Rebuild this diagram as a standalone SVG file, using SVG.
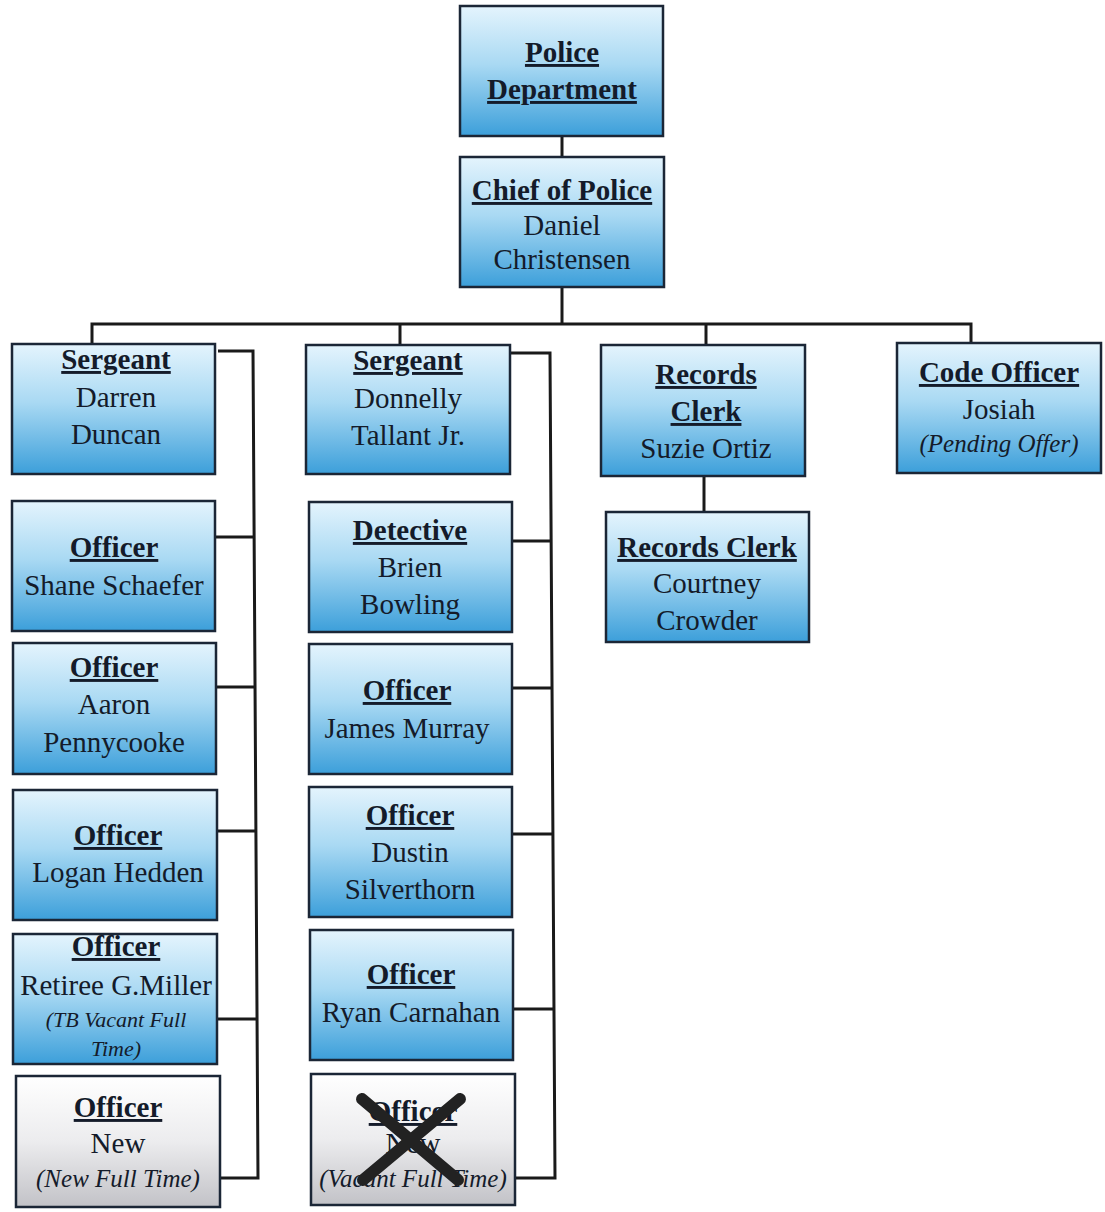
<svg xmlns="http://www.w3.org/2000/svg" width="1105" height="1212" viewBox="0 0 1105 1212" font-family="Liberation Serif, serif">
  <defs>
    <linearGradient id="blueFill" x1="0" y1="0" x2="0" y2="1">
      <stop offset="0" stop-color="#e4f4fd"/>
      <stop offset="0.45" stop-color="#a9d9f3"/>
      <stop offset="1" stop-color="#3c9fda"/>
    </linearGradient>
    <linearGradient id="greyFill" x1="0" y1="0" x2="0" y2="1">
      <stop offset="0" stop-color="#ffffff"/>
      <stop offset="0.5" stop-color="#ececee"/>
      <stop offset="1" stop-color="#c2c2c7"/>
    </linearGradient>
  </defs>
  <style>
    .box { fill: url(#blueFill); stroke: #1b2636; stroke-width: 2.5; }
    .grey { fill: url(#greyFill); stroke: #1b2636; stroke-width: 2.5; }
    .wire { fill: none; stroke: #1a1a1a; stroke-width: 3; }
    .cross { stroke: #222222; stroke-width: 12; stroke-linecap: round; }
  </style>

  <!-- connectors -->
  <g id="connectors">
    <line class="wire" x1="562" y1="136" x2="562" y2="157"/>
    <line class="wire" x1="562" y1="287" x2="562" y2="324"/>
    <polyline class="wire" points="92,344 92,324 971,324 971,343"/>
    <line class="wire" x1="400" y1="324" x2="400" y2="345"/>
    <line class="wire" x1="706" y1="324" x2="706" y2="345"/>
    <line class="wire" x1="704" y1="476" x2="704" y2="512"/>
    <!-- left sergeant branch -->
    <polyline class="wire" points="218,351 253,351 258,1178 220,1178"/>
    <line class="wire" x1="215" y1="537" x2="254" y2="537"/>
    <line class="wire" x1="216" y1="687" x2="255" y2="687"/>
    <line class="wire" x1="217" y1="831" x2="256" y2="831"/>
    <line class="wire" x1="217" y1="1019" x2="258" y2="1019"/>
    <!-- middle sergeant branch -->
    <polyline class="wire" points="510,353 550,353 555,1178 515,1178"/>
    <line class="wire" x1="512" y1="541" x2="552" y2="541"/>
    <line class="wire" x1="512" y1="688" x2="553" y2="688"/>
    <line class="wire" x1="512" y1="834" x2="554" y2="834"/>
    <line class="wire" x1="513" y1="1009" x2="555" y2="1009"/>
  </g>

  <!-- boxes -->
  <g id="police-department"><rect class="box" x="460" y="6" width="203" height="130"/></g>
  <g id="chief"><rect class="box" x="460" y="157" width="204" height="130"/></g>
  <g id="sergeant-duncan"><rect class="box" x="12" y="344" width="203" height="130"/></g>
  <g id="sergeant-tallant"><rect class="box" x="306" y="345" width="204" height="129"/></g>
  <g id="records-ortiz"><rect class="box" x="601" y="345" width="204" height="131"/></g>
  <g id="code-officer"><rect class="box" x="897" y="343" width="204" height="130"/></g>
  <g id="records-crowder"><rect class="box" x="606" y="512" width="203" height="130"/></g>
  <g id="officer-schaefer"><rect class="box" x="12" y="501" width="203" height="130"/></g>
  <g id="officer-pennycooke"><rect class="box" x="13" y="643" width="203" height="131"/></g>
  <g id="officer-hedden"><rect class="box" x="13" y="790" width="204" height="130"/></g>
  <g id="officer-miller"><rect class="box" x="13" y="934" width="204" height="130"/></g>
  <g id="officer-new-left"><rect class="grey" x="16" y="1076" width="204" height="131"/></g>
  <g id="detective-bowling"><rect class="box" x="309" y="502" width="203" height="130"/></g>
  <g id="officer-murray"><rect class="box" x="309" y="644" width="203" height="130"/></g>
  <g id="officer-silverthorn"><rect class="box" x="309" y="787" width="203" height="130"/></g>
  <g id="officer-carnahan"><rect class="box" x="310" y="930" width="203" height="130"/></g>
  <g id="officer-vacant"><rect class="grey" x="311" y="1074" width="204" height="131"/></g>

  <!-- titles: bold, underlined -->
  <g id="titles" font-family="Liberation Serif" font-size="29" font-weight="bold" text-decoration="underline" fill="#141b2a" text-anchor="middle">
    <text x="562" y="62">Police</text>
    <text x="562" y="99">Department</text>
    <text x="562" y="200">Chief of Police</text>
    <text x="116" y="369">Sergeant</text>
    <text x="408" y="370">Sergeant</text>
    <text x="706" y="384">Records</text>
    <text x="706" y="421">Clerk</text>
    <text x="999" y="382">Code Officer</text>
    <text x="707" y="557">Records Clerk</text>
    <text x="114" y="557">Officer</text>
    <text x="114" y="677">Officer</text>
    <text x="118" y="845">Officer</text>
    <text x="116" y="956">Officer</text>
    <text x="118" y="1117">Officer</text>
    <text x="410" y="540">Detective</text>
    <text x="407" y="700">Officer</text>
    <text x="410" y="825">Officer</text>
    <text x="411" y="984">Officer</text>
    <text x="413" y="1121">Officer</text>
  </g>

  <!-- names -->
  <g id="names" font-family="Liberation Serif" font-size="29" fill="#141b2a" text-anchor="middle">
    <text x="562" y="235">Daniel</text>
    <text x="562" y="269">Christensen</text>
    <text x="116" y="407">Darren</text>
    <text x="116" y="444">Duncan</text>
    <text x="408" y="408">Donnelly</text>
    <text x="408" y="445">Tallant Jr.</text>
    <text x="706" y="458">Suzie Ortiz</text>
    <text x="999" y="419">Josiah</text>
    <text x="707" y="593">Courtney</text>
    <text x="707" y="630">Crowder</text>
    <text x="114" y="595">Shane Schaefer</text>
    <text x="114" y="714">Aaron</text>
    <text x="114" y="752">Pennycooke</text>
    <text x="118" y="882">Logan Hedden</text>
    <text x="116" y="995">Retiree G.Miller</text>
    <text x="118" y="1153">New</text>
    <text x="410" y="577">Brien</text>
    <text x="410" y="614">Bowling</text>
    <text x="407" y="738">James Murray</text>
    <text x="410" y="862">Dustin</text>
    <text x="410" y="899">Silverthorn</text>
    <text x="411" y="1022">Ryan Carnahan</text>
    <text x="413" y="1153">New</text>
  </g>

  <!-- status notes -->
  <g id="notes" font-family="Liberation Serif" font-style="italic" fill="#141b2a" text-anchor="middle">
    <text x="999" y="452" font-size="25">(Pending Offer)</text>
    <text x="116" y="1027" font-size="22">(TB Vacant Full</text>
    <text x="116" y="1056" font-size="22">Time)</text>
    <text x="118" y="1187" font-size="25">(New Full Time)</text>
    <text x="413" y="1187" font-size="25">(Vacant Full Time)</text>
  </g>

  <!-- strike-through on the vacant post -->
  <g id="vacant-cross">
    <line class="cross" x1="362" y1="1099" x2="458" y2="1180"/>
    <line class="cross" x1="460" y1="1099" x2="363" y2="1180"/>
  </g>
</svg>
